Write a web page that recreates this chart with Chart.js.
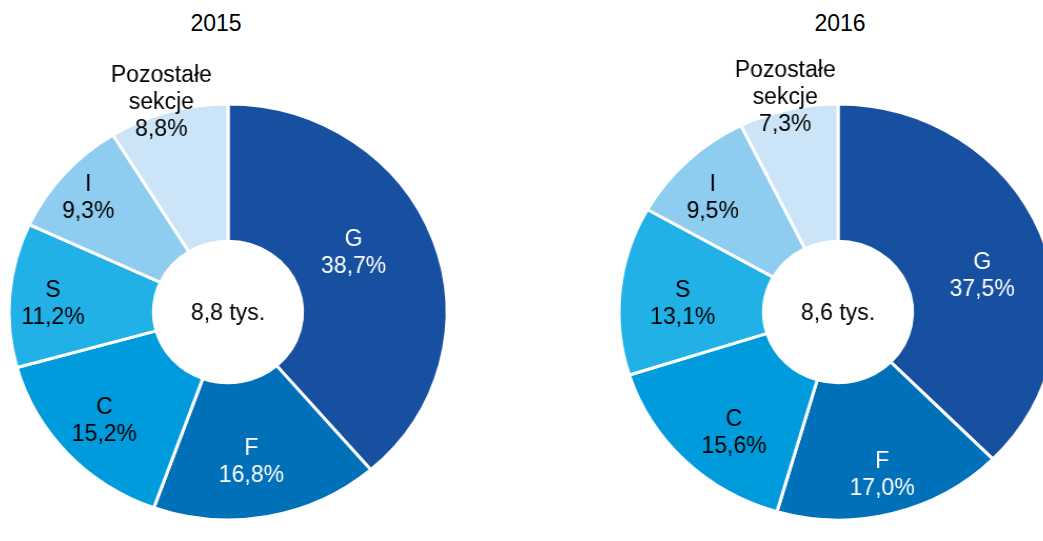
<!DOCTYPE html>
<html>
<head>
<meta charset="utf-8">
<script src="https://cdn.jsdelivr.net/npm/chart.js@4/dist/chart.umd.min.js"></script>
<style>
  html, body { margin: 0; padding: 0; background: #fff; overflow: hidden; }
  body { width: 1043px; height: 541px; position: relative; font-family: "Liberation Sans", Arial, sans-serif; }
  .box { position: absolute; top: 0; height: 541px; }
  .title { position: absolute; top: 10px; font-size: 23px; color: #000; transform: translateX(-50%); }
</style>
</head>
<body>
<div class="title" style="left:216px">2015</div>
<div class="title" style="left:840px">2016</div>
<div class="box" id="b1" style="left:0px;width:520px;transform:scaleX(1.053);transform-origin:228px 50%">
  <canvas id="c1" width="520" height="541"></canvas>
</div>
<div class="box" id="b2" style="left:600px;width:500px;transform:scaleX(1.053);transform-origin:238px 50%">
  <canvas id="c2" width="500" height="541"></canvas>
</div>
<script>
const SX = 1.053;

// data
const categories = ['G', 'F', 'C', 'S', 'I', ['Pozostałe', 'sekcje']];
const share2015 = [38.7, 16.8, 15.2, 11.2, 9.3, 8.8];
const share2016 = [37.5, 17.0, 15.6, 13.1, 9.5, 7.3];
const total2015 = '8,8 tys.';
const total2016 = '8,6 tys.';

const colors = ['#1750a0', '#0070b8', '#009bdc', '#21b1e6', '#8ecdf0', '#cce4f7'];
const textColors = ['#fff', '#fff', '#000', '#000', '#000', '#000'];

// label placement: distance from centre (share of outer radius) and angle nudge (deg)
const labelR2015 = [0.64, 0.73, 0.77, 0.80, 0.84, 1.05];
const labelR2016 = [0.68, 0.81, 0.75, 0.71, 0.79, 1.06];
const labelA2015 = [-6, 2, 0, -2, -1, -1];
const labelA2016 = [8, 0, -5, -3, -3, 0];

const fmt = v => v.toFixed(1).replace('.', ',') + '%';

function drawText(ctx, lines, x, y, color) {
  const lh = 27;
  ctx.save();
  ctx.translate(x, y);
  ctx.scale(1 / SX, 1);
  ctx.fillStyle = color;
  ctx.textAlign = 'center';
  ctx.textBaseline = 'middle';
  ctx.font = '23px "Liberation Sans", Arial, sans-serif';
  const y0 = -(lines.length - 1) * lh / 2;
  lines.forEach((t, i) => ctx.fillText(t, 0, y0 + i * lh));
  ctx.restore();
}

const labelPlugin = {
  id: 'sliceLabels',
  afterDatasetsDraw(chart, args, opts) {
    const ctx = chart.ctx;
    const meta = chart.getDatasetMeta(0);
    const values = chart.data.datasets[0].data;
    let cx = 0, cy = 0;
    meta.data.forEach((arc, i) => {
      const p = arc.getProps(['x', 'y', 'startAngle', 'endAngle', 'outerRadius'], true);
      cx = p.x; cy = p.y;
      const mid = (p.startAngle + p.endAngle) / 2 + opts.angles[i] * Math.PI / 180;
      const r = p.outerRadius * opts.radii[i];
      const cat = chart.data.labels[i];
      const lines = (Array.isArray(cat) ? cat : [cat]).concat([fmt(values[i])]);
      drawText(ctx, lines, p.x + Math.cos(mid) * r, p.y + Math.sin(mid) * r, textColors[i]);
    });
    drawText(ctx, [opts.total], cx, cy + 2, '#000');
  }
};

function makeChart(id, values, total, radii, angles, pad) {
  return new Chart(document.getElementById(id), {
    type: 'doughnut',
    data: {
      labels: categories,
      datasets: [{
        data: values,
        backgroundColor: colors,
        borderColor: '#fff',
        borderWidth: 3,
        hoverOffset: 0
      }]
    },
    options: {
      responsive: false,
      animation: false,
      cutout: '34%',
      layout: { padding: pad },
      plugins: {
        legend: { display: false },
        tooltip: { enabled: false },
        title: { display: false },
        sliceLabels: { total: total, radii: radii, angles: angles }
      }
    },
    plugins: [labelPlugin]
  });
}

makeChart('c1', share2015, total2015, labelR2015, labelA2015, { top: 102.5, bottom: 19.5, left: 18.5, right: 82.5 });
makeChart('c2', share2016, total2016, labelR2016, labelA2016, { top: 102.5, bottom: 19.5, left: 28.5, right: 52.5 });
</script>
</body>
</html>
